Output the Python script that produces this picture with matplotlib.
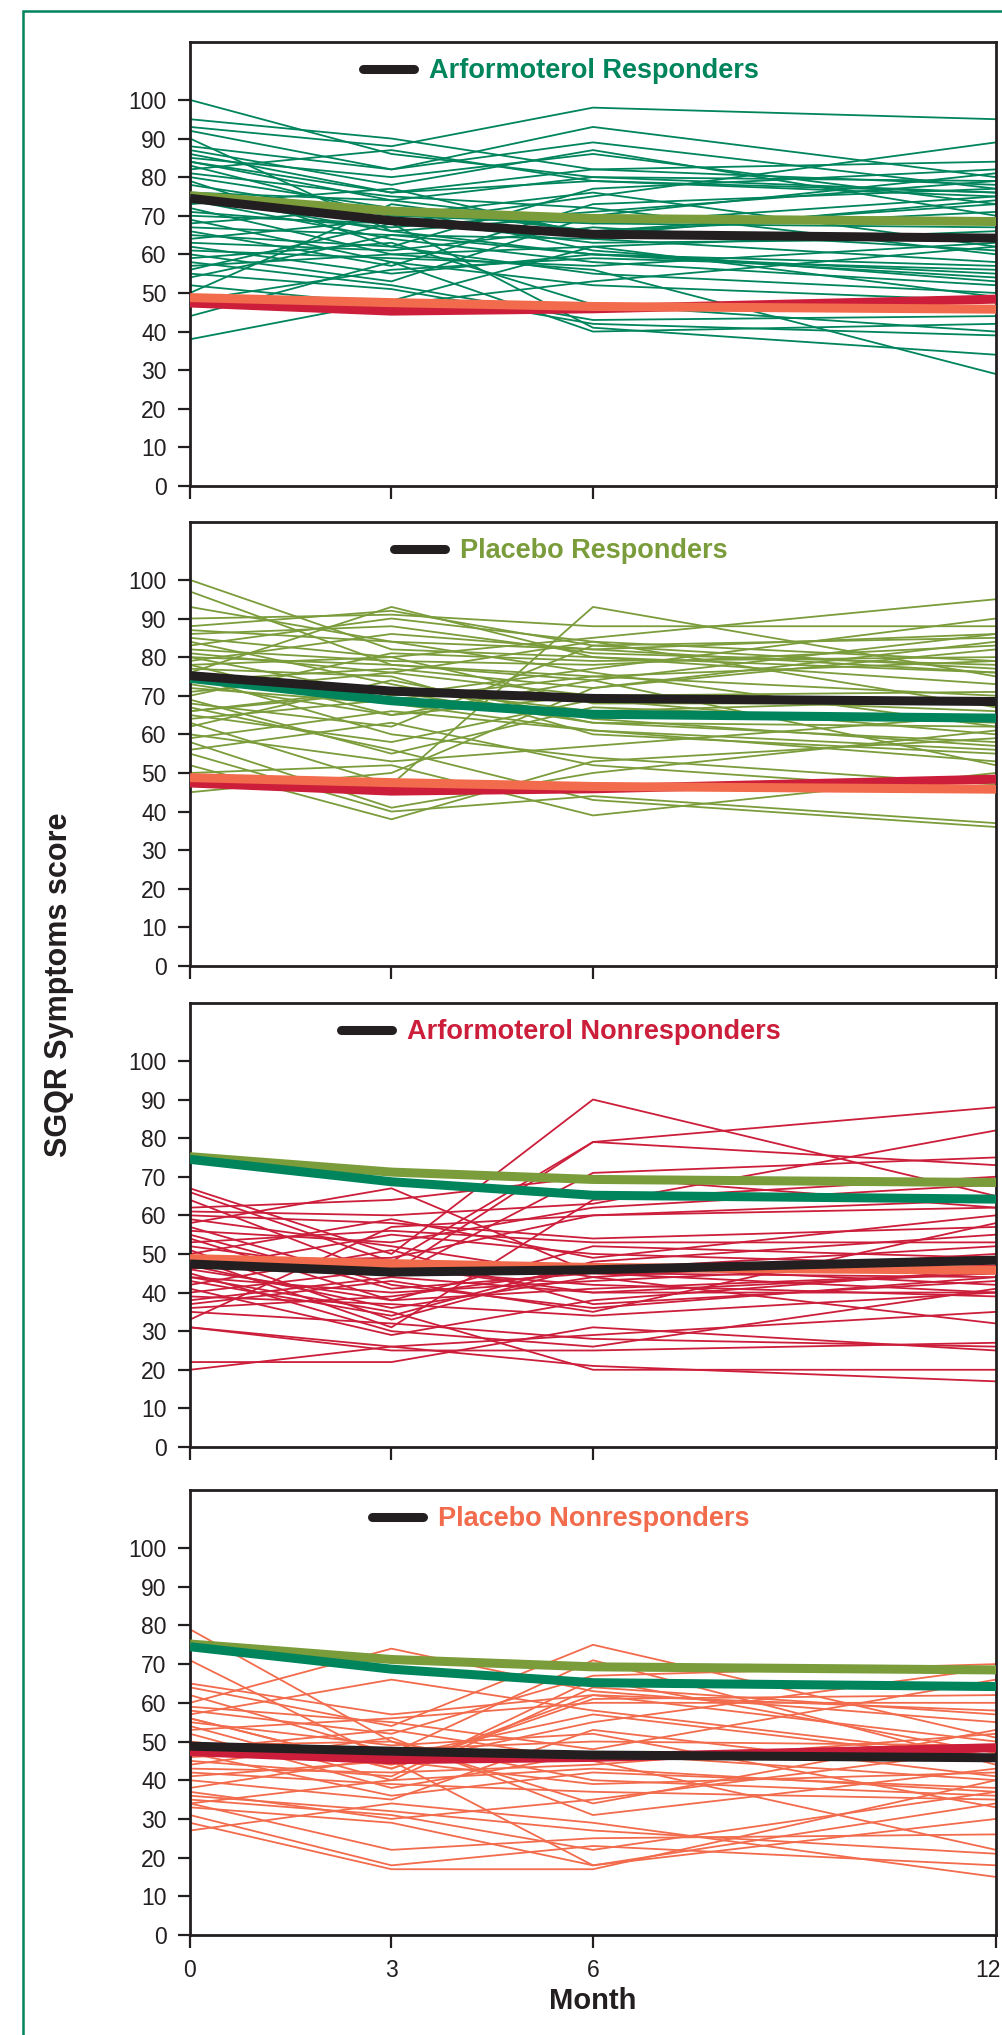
import matplotlib
matplotlib.use("Agg")
import matplotlib.pyplot as plt
from matplotlib.lines import Line2D
from matplotlib.patches import Rectangle
from matplotlib.transforms import ScaledTranslation

months = [0, 3, 6, 12]
month_labels = ["0", "3", "6", "12"]
y_ticks = list(range(0, 101, 10))

# group means (thick lines)
mean_arf_resp = [74.5, 68.7, 65.2, 64.2]
mean_plac_resp = [75.2, 71.2, 69.3, 68.5]
mean_arf_nonresp = [47.4, 45.3, 45.9, 48.4]
mean_plac_nonresp = [48.8, 47.5, 46.5, 45.8]

# individual patients, values at months 0, 3, 6, 12
arf_resp = [
    [100, 86, 80, 76], [95, 90, 82, 78], [93, 88, 98, 95], [92, 82, 93, 80],
    [90, 66, 60, 55], [88, 82, 89, 77], [87, 78, 87, 70], [85, 80, 86, 73],
    [84, 76, 82, 84], [83, 70, 76, 62], [82, 87, 79, 76], [81, 75, 72, 60],
    [80, 72, 61, 53], [79, 62, 77, 82], [78, 70, 68, 75], [76, 74, 80, 79],
    [75, 66, 70, 68], [74, 64, 58, 52], [73, 77, 65, 74], [72, 60, 62, 66],
    [70, 68, 75, 89], [69, 58, 52, 48], [68, 72, 66, 73], [67, 65, 60, 57],
    [66, 57, 73, 77], [65, 62, 55, 50], [64, 69, 63, 64], [62, 55, 60, 54],
    [61, 59, 57, 63], [60, 53, 70, 81], [59, 63, 47, 40], [58, 52, 43, 44],
    [57, 60, 56, 29], [56, 68, 41, 34], [55, 51, 42, 39], [54, 65, 64, 58],
    [52, 47, 53, 62], [50, 73, 66, 71], [48, 56, 59, 56], [44, 58, 40, 42],
    [38, 48, 62, 49], [84, 74, 68, 67], [71, 67, 71, 79], [63, 61, 67, 61],
    [86, 76, 79, 75],
]
plac_resp = [
    [100, 82, 80, 76], [97, 78, 75, 70], [93, 84, 76, 62], [90, 91, 88, 88],
    [88, 92, 83, 85], [86, 88, 81, 78], [85, 80, 85, 95], [84, 73, 63, 58],
    [83, 90, 84, 79], [82, 79, 78, 83], [81, 76, 70, 66], [80, 70, 77, 90],
    [79, 86, 82, 76], [78, 65, 74, 86], [77, 75, 60, 55], [76, 93, 80, 73],
    [75, 60, 54, 47], [74, 77, 72, 82], [72, 68, 61, 53], [70, 81, 79, 80],
    [69, 55, 67, 63], [68, 62, 83, 77], [67, 56, 43, 36], [66, 72, 66, 69],
    [65, 58, 69, 60], [63, 47, 93, 75], [62, 74, 64, 57], [60, 53, 57, 65],
    [58, 41, 50, 61], [56, 63, 52, 45], [55, 40, 44, 37], [52, 38, 53, 59],
    [50, 52, 39, 50], [45, 50, 72, 84], [73, 65, 70, 71], [71, 76, 84, 67],
    [64, 69, 75, 79], [59, 66, 61, 56], [80, 78, 74, 52], [87, 84, 82, 86],
    [66, 71, 63, 62], [78, 80, 68, 68],
]
arf_nonresp = [
    [67, 50, 90, 65], [66, 48, 79, 88], [64, 44, 71, 75], [62, 64, 70, 62],
    [61, 60, 63, 82], [60, 58, 54, 57], [58, 67, 45, 40], [57, 42, 36, 44],
    [56, 53, 62, 68], [54, 38, 52, 49], [53, 56, 53, 53], [52, 45, 79, 73],
    [51, 33, 47, 42], [50, 59, 49, 60], [49, 31, 64, 70], [48, 47, 40, 45],
    [47, 36, 44, 50], [46, 55, 50, 47], [45, 30, 26, 41], [44, 40, 43, 48],
    [43, 34, 48, 55], [42, 51, 37, 43], [41, 29, 38, 46], [40, 46, 42, 39],
    [39, 37, 34, 40], [37, 43, 35, 58], [36, 39, 46, 52], [35, 32, 28, 26],
    [33, 57, 60, 64], [31, 26, 29, 35], [31, 25, 25, 27], [22, 22, 31, 25],
    [20, 26, 21, 17], [44, 35, 20, 20], [55, 41, 45, 44], [48, 49, 60, 62],
    [38, 44, 40, 40], [59, 52, 44, 32], [46, 38, 41, 45],
]
plac_nonresp = [
    [79, 50, 40, 36], [71, 45, 18, 34], [65, 57, 62, 58], [64, 54, 75, 51],
    [62, 47, 71, 44], [60, 74, 63, 55], [58, 52, 67, 70], [57, 66, 58, 46],
    [56, 43, 61, 62], [55, 49, 52, 33], [54, 40, 64, 57], [53, 56, 60, 60],
    [52, 38, 47, 40], [50, 44, 55, 69], [48, 53, 45, 22], [47, 36, 42, 38],
    [46, 48, 50, 49], [45, 41, 66, 47], [44, 51, 31, 43], [43, 42, 44, 52],
    [42, 39, 37, 35], [40, 35, 53, 41], [38, 46, 57, 45], [36, 32, 27, 21],
    [35, 31, 22, 37], [34, 22, 25, 26], [33, 29, 18, 30], [31, 18, 23, 18],
    [29, 17, 17, 40], [27, 34, 29, 15], [59, 55, 48, 66], [37, 30, 35, 48],
    [41, 45, 39, 42], [49, 50, 34, 53], [56, 43, 62, 50], [34, 40, 43, 37],
]

GREEN = "#00845c"
OLIVE = "#7b9c3b"
RED = "#cc1e3a"
ORANGE = "#f26b4c"
BLACK = "#231f20"

titles = ["Arformoterol Responders", "Placebo Responders",
          "Arformoterol Nonresponders", "Placebo Nonresponders"]
colors = [GREEN, OLIVE, RED, ORANGE]
patients = [arf_resp, plac_resp, arf_nonresp, plac_nonresp]
means = [mean_arf_resp, mean_plac_resp, mean_arf_nonresp, mean_plac_nonresp]
mean_order = [1, 0, 2, 3]  # drawing order of the thick lines

narrow = ["Liberation Sans", "DejaVu Sans"]

W, H = 1003, 2035
fig = plt.figure(figsize=(W / 100, H / 100), dpi=100)

# outer green frame
fig.add_artist(Rectangle((23 / W, -0.05), 1.2, 1 - 11 / H + 0.05,
                         transform=fig.transFigure, fill=False,
                         edgecolor=GREEN, lw=1.8))

panel_px = [(42, 486), (522, 966), (1003, 1447), (1490, 1935)]
left_px, right_px = 190, 996

for i, (top, bot) in enumerate(panel_px):
    ax = fig.add_axes([left_px / W, 1 - bot / H, (right_px - left_px) / W, (bot - top) / H])
    for p in patients[i]:
        ax.plot(months, p, color=colors[i], lw=1.3, zorder=2)
    for j in mean_order:
        c = BLACK if j == i else colors[j]
        ax.plot(months, means[j], color=c, lw=6.5, solid_capstyle="butt",
                solid_joinstyle="round", zorder=3 + (1 if j == i else 0))

    ax.set_xlim(0, 12)
    ax.set_ylim(0, 115)
    ax.set_yticks(y_ticks)
    ax.set_xticks(months)
    for s in ax.spines.values():
        s.set_linewidth(2)
        s.set_color(BLACK)
    ax.tick_params(direction="out", length=9, width=1.6, color=BLACK, pad=8)
    for lab in ax.get_yticklabels():
        lab.set_family(narrow)
        lab.set_fontsize(16.5)
        lab.set_color(BLACK)
    if i == 3:
        labs = ax.set_xticklabels(month_labels, family=narrow, fontsize=16.5, color=BLACK)
        # keep the last label inside the image
        labs[-1].set_transform(labs[-1].get_transform()
                               + ScaledTranslation(-0.08, 0, fig.dpi_scale_trans))
        ax.set_xlabel("Month", family=narrow, fontsize=21, fontweight="bold",
                      color=BLACK, labelpad=4)
    else:
        ax.set_xticklabels([])

    leg = ax.legend(handles=[Line2D([], [], color=BLACK, lw=6.5, solid_capstyle="round")],
                    labels=[titles[i]], loc="upper center", bbox_to_anchor=(0.46, 1.0),
                    frameon=False, handlelength=1.9, handletextpad=0.55,
                    borderpad=0.2, borderaxespad=0.4,
                    prop={"family": narrow, "size": 19.5, "weight": "bold"})
    for t in leg.get_texts():
        t.set_color(colors[i])

fig.text(59 / W, 1 - 985 / H, "SGQR Symptoms score", rotation=90,
         ha="center", va="center", fontsize=22, fontweight="bold",
         family=["Liberation Sans", "DejaVu Sans"], color=BLACK)

fig.savefig("out.png", dpi=100)
